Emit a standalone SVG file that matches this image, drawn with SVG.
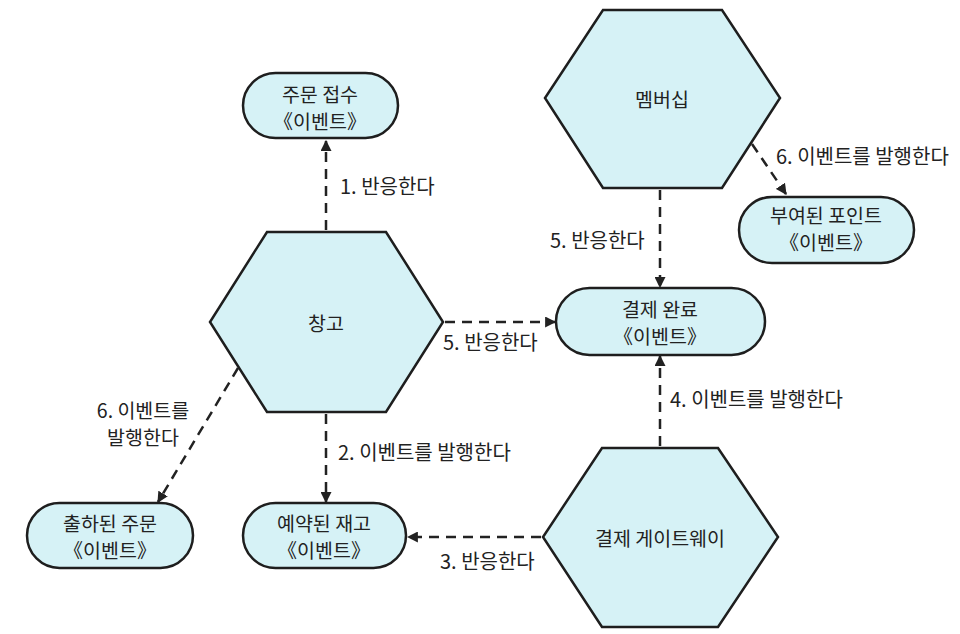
<svg xmlns="http://www.w3.org/2000/svg" width="960" height="634" viewBox="0 0 960 634">
<defs>
<marker id="arr" viewBox="0 0 10 10" refX="9" refY="5" markerWidth="11" markerHeight="11" markerUnits="userSpaceOnUse" orient="auto">
<path d="M0,0 L10,5 L0,10 Z" fill="#222"/>
</marker>
</defs>
<style>
.hex{fill:#d6f2f6;stroke:#1e1e1e;stroke-width:2.5;stroke-linejoin:miter}
.ev{fill:#d6f2f6;stroke:#1e1e1e;stroke-width:2.5}
.t{font-family:"Noto Sans CJK KR","Noto Sans",sans-serif;font-size:19.5px;fill:#222;text-anchor:middle}
.l{font-family:"Noto Sans CJK KR","Noto Sans",sans-serif;font-size:20px;fill:#222}
.lc{font-family:"Noto Sans CJK KR","Noto Sans",sans-serif;font-size:19.5px;fill:#222;text-anchor:middle}
.c{fill:none;stroke:#222;stroke-width:2.5;stroke-dasharray:10 7;marker-end:url(#arr)}
</style>
<rect width="960" height="634" fill="#fff"/>
<g id="connectors">
<line class="c" x1="326" y1="230" x2="326" y2="141"/>
<line class="c" x1="326" y1="414" x2="326" y2="502"/>
<line class="c" x1="541" y1="537" x2="408" y2="537"/>
<line class="c" x1="660" y1="446" x2="660" y2="356"/>
<line class="c" x1="660" y1="190" x2="660" y2="287"/>
<line class="c" x1="445" y1="322" x2="555" y2="322"/>
<line class="c" x1="752" y1="144" x2="786" y2="194"/>
<line class="c" x1="238" y1="368" x2="158" y2="502"/>
<text class="l" x="340" y="194">1. 반응한다</text>
<text class="l" x="338" y="460">2. 이벤트를 발행한다</text>
<text class="l" x="440" y="569">3. 반응한다</text>
<text class="l" x="670" y="407">4. 이벤트를 발행한다</text>
<text class="l" x="550" y="248">5. 반응한다</text>
<text class="l" x="443" y="350">5. 반응한다</text>
<text class="l" x="776" y="164">6. 이벤트를 발행한다</text>
<text class="lc" x="143" y="418"><tspan x="143">6. 이벤트를</tspan><tspan x="143" dy="27">발행한다</tspan></text>
</g>
<g id="n-membership">
<polygon class="hex" points="603,10 722,10 780,98 722,188 603,188 545,98"/>
<text class="t" x="662" y="107">멤버십</text>
</g>
<g id="n-warehouse">
<polygon class="hex" points="267,232 386,232 443,322 386,412 267,412 210,322"/>
<text class="t" x="326" y="331">창고</text>
</g>
<g id="n-gateway">
<polygon class="hex" points="602,448 718,448 778,537 718,627 602,627 543,537"/>
<text class="t" x="660" y="546">결제 게이트웨이</text>
</g>
<g id="n-order-received">
<rect class="ev" x="243" y="73" width="155" height="65" rx="32.5"/>
<text class="t" x="320" y="102"><tspan x="320">주문 접수</tspan><tspan x="320" dy="27">《이벤트》</tspan></text>
</g>
<g id="n-points">
<rect class="ev" x="739" y="197" width="175" height="66" rx="33"/>
<text class="t" x="826" y="223"><tspan x="826">부여된 포인트</tspan><tspan x="826" dy="27">《이벤트》</tspan></text>
</g>
<g id="n-payment-done">
<rect class="ev" x="556" y="288" width="209" height="67" rx="33.5"/>
<text class="t" x="660" y="317"><tspan x="660">결제 완료</tspan><tspan x="660" dy="27">《이벤트》</tspan></text>
</g>
<g id="n-shipped">
<rect class="ev" x="27" y="503" width="166" height="65" rx="32.5"/>
<text class="t" x="110" y="531"><tspan x="110">출하된 주문</tspan><tspan x="110" dy="27">《이벤트》</tspan></text>
</g>
<g id="n-reserved">
<rect class="ev" x="243" y="503" width="163" height="65" rx="32.5"/>
<text class="t" x="324" y="531"><tspan x="324">예약된 재고</tspan><tspan x="324" dy="27">《이벤트》</tspan></text>
</g>
</svg>
